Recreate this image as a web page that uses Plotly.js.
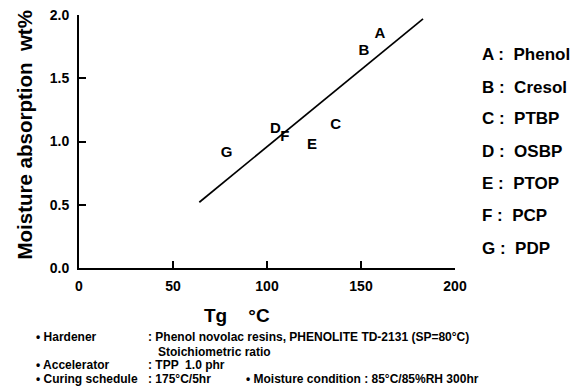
<!DOCTYPE html>
<html><head><meta charset="utf-8">
<script src="https://cdn.plot.ly/plotly-3.0.1.min.js"></script>
<style>html,body{margin:0;padding:0;background:#fff}#chart{width:584px;height:386px}</style>
</head><body><div id="chart"></div>
<script>
// Data
const labels = ["A","B","C","D","E","F","G"];
const tgValues = [160, 151.5, 136.5, 104.5, 124, 109.5, 78.5];
const moistureValues = [1.85, 1.71, 1.125, 1.10, 0.97, 1.03, 0.91];
const resinNames = ["Phenol","Cresol","PTBP","OSBP","PTOP","PCP","PDP"];
const fitX = [64, 183];
const fitY = [0.52, 1.97];
const xTicks = [0, 50, 100, 150, 200];
const yTicks = [0.0, 0.5, 1.0, 1.5, 2.0];

const W = 584, H = 386;
const M = {l: 79, r: 129, t: 15, b: 118};
const pw = W - M.l - M.r, ph = H - M.t - M.b;
const px = x => (x - M.l) / pw;
const py = y => (H - M.b - y) / ph;
const FONT = "Liberation Sans, Arial, sans-serif";
const bold = s => ({family: FONT, size: s, weight: "bold", color: "#000"});

const traces = [
  {x: fitX, y: fitY, mode: "lines", line: {color: "#000", width: 1.7}, hoverinfo: "skip"},
  {x: tgValues, y: moistureValues, mode: "text", text: labels,
   textfont: bold(15), textposition: "middle center"}
];

const ann = [];
const addText = (x, y, text, size, opts) => ann.push(Object.assign({xref: "paper", yref: "paper",
  x: px(x), y: py(y), text: text, showarrow: false, yanchor: "middle", font: bold(size)}, opts || {}));
// axis titles
addText(23.5, 135, "Moisture absorption  wt%", 20.5, {textangle: -90, xanchor: "center"});
addText(237, 315, "Tg    °C", 19, {xanchor: "center"});
// legend text
const legY = [55, 87, 119, 151, 184, 215, 248];
labels.forEach((l, i) => addText(480, legY[i], l + " :  " + resinNames[i], 17, {xanchor: "left"}));
// notes
const notes = [
  [34, 337, "• Hardener"], [146, 337, ": Phenol novolac resins, PHENOLITE TD-2131 (SP=80°C)"],
  [156, 351.5, "Stoichiometric ratio"],
  [34, 365, "• Accelerator"], [146, 365, ": TPP  1.0 phr"],
  [34, 378.5, "• Curing schedule"], [146, 378.5, ": 175°C/5hr"],
  [244, 378.5, "• Moisture condition : 85°C/85%RH 300hr"]
];
notes.forEach(n => addText(n[0], n[1], n[2], 12, {xanchor: "left"}));

const axisCommon = {showgrid: false, zeroline: false, showline: true, linecolor: "#000", linewidth: 2,
  ticks: "inside", ticklen: 7, tickwidth: 2, tickcolor: "#000", tickfont: bold(14), fixedrange: true};
const layout = {
  width: W, height: H, margin: M, showlegend: false,
  paper_bgcolor: "#fff", plot_bgcolor: "#fff",
  xaxis: Object.assign({range: [0, 200], tickvals: xTicks, ticktext: xTicks.map(v => "<b>" + v + "</b>"), ticklabelstandoff: 4}, axisCommon),
  yaxis: Object.assign({range: [0, 2], tickvals: yTicks, ticktext: yTicks.map(v => "<b>" + v.toFixed(1) + "</b>"), ticklabelstandoff: 5}, axisCommon),
  annotations: ann
};
Plotly.newPlot("chart", traces, layout, {displayModeBar: false, staticPlot: true});
</script></body></html>
